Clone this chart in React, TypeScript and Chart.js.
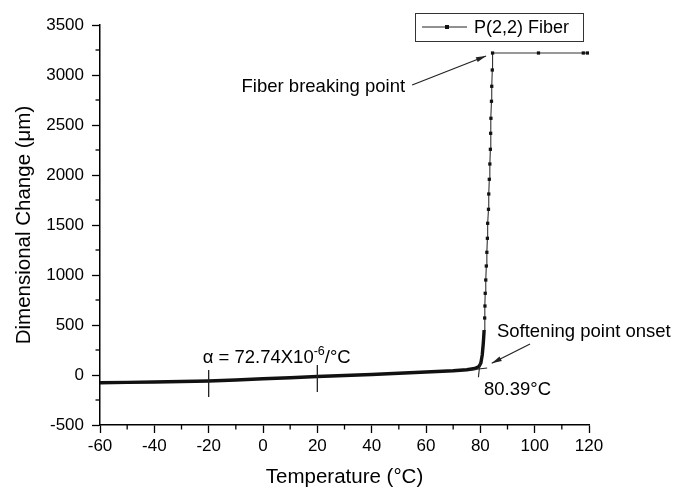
import React, { useEffect, useRef } from 'react';
import { Chart, registerables } from 'chart.js';

Chart.register(...registerables);

const FONT = "'Liberation Sans', Arial, Helvetica, sans-serif";

// Baseline (slow expansion + knee), drawn as a thick trace
const baseTemp = [-60, -50, -40, -30, -20, -10, 0, 10, 20, 30, 40, 50, 60, 70, 75, 78, 79.5, 80.2, 80.7, 81.1, 81.4];
const baseChange = [-78, -74, -70, -65, -60, -50, -38, -28, -15, -5, 5, 18, 30, 42, 52, 65, 85, 120, 200, 320, 450];
// Steep rise after softening (visible square markers)
const riseTemp = [81.6, 81.7, 81.8, 82.0, 82.2, 82.4, 82.6, 82.7, 83.0, 83.1, 83.3, 83.5, 83.7, 83.8, 83.9, 84.1, 84.2, 84.4, 84.5];
const riseChange = [570, 690, 817, 950, 1090, 1227, 1367, 1517, 1657, 1810, 1957, 2110, 2257, 2417, 2567, 2737, 2887, 3050, 3220];
// Plateau after fiber break
const plateauTemp = [101.4, 117.9, 119.4];
const plateauChange = [3220, 3220, 3220];

const xTickValues = [-60, -40, -20, 0, 20, 40, 60, 80, 100, 120];
const xMinorValues = [-50, -30, -10, 10, 30, 50, 70, 90, 110];
const yTickValues = [-500, 0, 500, 1000, 1500, 2000, 2500, 3000, 3500];
const yMinorValues = [-250, 250, 750, 1250, 1750, 2250, 2750, 3250];

const seriesLabel = 'P(2,2) Fiber';
const xTitle = 'Temperature (°C)';
const yTitle = 'Dimensional Change (μm)';

const allTemp = [...baseTemp, ...riseTemp, ...plateauTemp];
const allChange = [...baseChange, ...riseChange, ...plateauChange];
const points = allTemp.map((t, i) => ({ x: t, y: allChange[i] }));
const BASE_N = baseTemp.length;

function arrow(ctx: CanvasRenderingContext2D, x1: number, y1: number, x2: number, y2: number) {
  ctx.beginPath();
  ctx.moveTo(x1, y1);
  ctx.lineTo(x2, y2);
  ctx.stroke();
  const a = Math.atan2(y2 - y1, x2 - x1);
  const len = 10, w = 2.6;
  ctx.beginPath();
  ctx.moveTo(x2, y2);
  ctx.lineTo(x2 - len * Math.cos(a) + w * Math.sin(a), y2 - len * Math.sin(a) - w * Math.cos(a));
  ctx.lineTo(x2 - len * Math.cos(a) - w * Math.sin(a), y2 - len * Math.sin(a) + w * Math.cos(a));
  ctx.closePath();
  ctx.fill();
}

const annotPlugin = {
  id: 'annot',
  afterDraw(chart: any) {
    const ctx: CanvasRenderingContext2D = chart.ctx;
    const xs = chart.scales.x, ys = chart.scales.y;
    const X = (v: number) => xs.getPixelForValue(v);
    const Y = (v: number) => ys.getPixelForValue(v);
    const ca = chart.chartArea;
    ctx.save();
    ctx.strokeStyle = '#000';
    ctx.fillStyle = '#000';
    ctx.lineWidth = 1.3;
    // minor ticks
    for (const t of xMinorValues) {
      const px = X(t);
      ctx.beginPath(); ctx.moveTo(px, ca.bottom); ctx.lineTo(px, ca.bottom + 4.5); ctx.stroke();
    }
    for (const t of yMinorValues) {
      const py = Y(t);
      ctx.beginPath(); ctx.moveTo(ca.left, py); ctx.lineTo(ca.left - 4.5, py); ctx.stroke();
    }
    // axis titles
    ctx.font = `20.5px ${FONT}`;
    ctx.textAlign = 'center';
    ctx.textBaseline = 'middle';
    ctx.fillText(xTitle, (ca.left + ca.right) / 2, 477);
    ctx.save();
    ctx.translate(24, (ca.top + ca.bottom) / 2);
    ctx.rotate(-Math.PI / 2);
    ctx.fillText(yTitle, 0, 0);
    ctx.restore();

    // legend
    const lx = ca.right - 174, ly = 13;
    ctx.lineWidth = 1;
    ctx.strokeStyle = '#333';
    ctx.strokeRect(lx + 0.5, ly + 0.5, 168, 28);
    ctx.strokeStyle = '#222';
    ctx.beginPath(); ctx.moveTo(lx + 7, ly + 14); ctx.lineTo(lx + 52, ly + 14); ctx.stroke();
    ctx.fillStyle = '#111';
    ctx.fillRect(lx + 30, ly + 12, 4, 4);
    ctx.fillStyle = '#000';
    ctx.font = `18px ${FONT}`;
    ctx.textAlign = 'left';
    ctx.textBaseline = 'middle';
    ctx.fillText(seriesLabel, lx + 59, ly + 15);

    // annotations
    ctx.strokeStyle = '#222';
    ctx.fillStyle = '#222';
    ctx.lineWidth = 1.2;
    ctx.font = `18.5px ${FONT}`;
    ctx.textBaseline = 'alphabetic';
    // Fiber breaking point
    ctx.fillStyle = '#000';
    ctx.textAlign = 'right';
    ctx.fillText('Fiber breaking point', X(52.3), Y(2830));
    ctx.fillStyle = '#222';
    arrow(ctx, X(54.9), Y(2900), X(82.1), Y(3190));
    // Softening point onset
    ctx.fillStyle = '#000';
    ctx.textAlign = 'left';
    ctx.fillText('Softening point onset', X(86.1), Y(380));
    ctx.fillStyle = '#222';
    arrow(ctx, X(98.3), Y(310), X(84.2), Y(117));
    // onset marker cross
    ctx.lineWidth = 1.1;
    ctx.beginPath(); ctx.moveTo(X(76.2), Y(50)); ctx.lineTo(X(82.5), Y(70)); ctx.stroke();
    ctx.beginPath(); ctx.moveTo(X(79.9), Y(133)); ctx.lineTo(X(79.3), Y(-23)); ctx.stroke();
    ctx.fillStyle = '#000';
    ctx.fillText('80.39°C', X(81.35), Y(-200));
    // alpha ticks
    ctx.lineWidth = 1.3;
    ctx.beginPath(); ctx.moveTo(X(-20), Y(50)); ctx.lineTo(X(-20), Y(-220)); ctx.stroke();
    ctx.beginPath(); ctx.moveTo(X(20), Y(100)); ctx.lineTo(X(20), Y(-170)); ctx.stroke();
    // alpha text
    let ax = X(-22.2);
    const ay = Y(123);
    ctx.font = `18.5px ${FONT}`;
    const t1 = 'α = 72.74X10';
    ctx.fillText(t1, ax, ay);
    ax += ctx.measureText(t1).width;
    ctx.font = `12.5px ${FONT}`;
    const t2 = '-6';
    ctx.fillText(t2, ax, ay - 8);
    ax += ctx.measureText(t2).width;
    ctx.font = `18.5px ${FONT}`;
    ctx.fillText('/°C', ax, ay);
    ctx.restore();
  },
};

export default function App() {
  const ref = useRef<HTMLCanvasElement>(null);
  useEffect(() => {
    document.body.style.margin = '0';
    const canvas = ref.current!;
    const chart = new Chart(canvas, {
      type: 'line',
      data: {
        datasets: [
          {
            label: seriesLabel,
            data: points,
            borderColor: '#1a1a1a',
            backgroundColor: '#111',
            pointStyle: 'rect',
            pointRadius: (c: any) => (c.dataIndex >= BASE_N ? 2.3 : 0),
            pointBorderWidth: 0,
            pointBackgroundColor: '#111',
            tension: 0,
            fill: false,
            segment: {
              borderWidth: (c: any) => (c.p0DataIndex < BASE_N - 1 ? 3.4 : 1.1),
              borderColor: (c: any) => (c.p0DataIndex < BASE_N - 1 ? '#111' : '#333'),
            },
          } as any,
        ],
      },
      options: {
        animation: false,
        responsive: false,
        devicePixelRatio: 1,
        layout: { padding: { left: 0, right: 84, top: 25, bottom: 0 } },
        plugins: { legend: { display: false }, tooltip: { enabled: false } },
        scales: {
          x: {
            type: 'linear',
            min: -60,
            max: 120,
            afterBuildTicks: (s: any) => {
              s.ticks = xTickValues.map((value) => ({ value }));
            },
            afterFit: (s: any) => {
              s.height = 64;
            },
            ticks: {
              color: '#000',
              font: { size: 17, family: FONT },
              padding: 3,
              maxRotation: 0,
              autoSkip: false,
              callback: (v: any) => String(v),
            },
            grid: { drawOnChartArea: false, drawTicks: true, tickLength: 8, tickColor: '#000', tickWidth: 1.3 },
            border: { display: true, color: '#000', width: 1.5 },
          },
          y: {
            type: 'linear',
            min: -500,
            max: 3500,
            afterBuildTicks: (s: any) => {
              s.ticks = yTickValues.map((value) => ({ value }));
            },
            afterFit: (s: any) => {
              s.width = 100;
            },
            ticks: {
              color: '#000',
              font: { size: 17, family: FONT },
              padding: 8,
              autoSkip: false,
              callback: (v: any) => String(v),
            },
            grid: { drawOnChartArea: false, drawTicks: true, tickLength: 8, tickColor: '#000', tickWidth: 1.3 },
            border: { display: true, color: '#000', width: 1.5 },
          },
        },
      } as any,
      plugins: [annotPlugin],
    });
    return () => chart.destroy();
  }, []);
  return (
    <div style={{ width: 673, height: 489, background: '#fff' }}>
      <canvas ref={ref} width={673} height={489} style={{ display: 'block' }} />
    </div>
  );
}
